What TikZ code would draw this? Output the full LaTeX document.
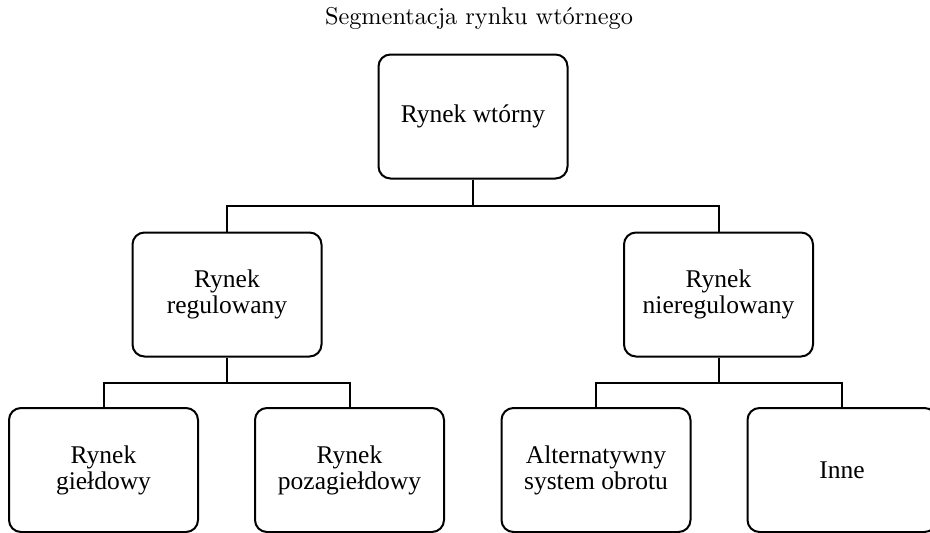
\documentclass[tikz,border=0pt]{standalone}
\usepackage{fontspec}
\newfontfamily\boxfont{Liberation Serif}
\newfontfamily\titlefont[Extension=.otf]{lmroman10-regular}
\begin{document}
\begin{tikzpicture}[x=1pt,y=-1pt,
  box/.style={draw,line width=2pt,rounded corners=12pt,minimum width=189pt,minimum height=124pt,
    align=center,inner sep=0pt,font=\boxfont\fontsize{25.5}{26}\selectfont},
  conn/.style={line width=2pt}]
\useasboundingbox (0,0) rectangle (930,533);
\clip (0,0) rectangle (930,533);
\node[font=\titlefont\fontsize{24.3}{28}\selectfont] (title) at (479,18) {Segmentacja rynku wtórnego};
\node[box] (root) at (473,116.5) {Rynek wtórny};
\node[box] (reg) at (227,294.5) {Rynek\\regulowany};
\node[box] (nreg) at (718.5,294.5) {Rynek\\nieregulowany};
\node[box] (gield) at (103.5,470) {Rynek\\giełdowy};
\node[box] (poza) at (349.5,470) {Rynek\\pozagiełdowy};
\node[box] (alt) at (596,470) {Alternatywny\\system obrotu};
\node[box] (inne) at (842,470) {Inne};
\draw[conn] (root.south) |- (227,206) -- (reg.north);
\draw[conn] (root.south) |- (718.5,206) -- (nreg.north);
\draw[conn] (reg.south) |- (103.5,383) -- (gield.north);
\draw[conn] (reg.south) |- (349.5,383) -- (poza.north);
\draw[conn] (nreg.south) |- (596,383) -- (alt.north);
\draw[conn] (nreg.south) |- (842,383) -- (inne.north);
\end{tikzpicture}
\end{document}
